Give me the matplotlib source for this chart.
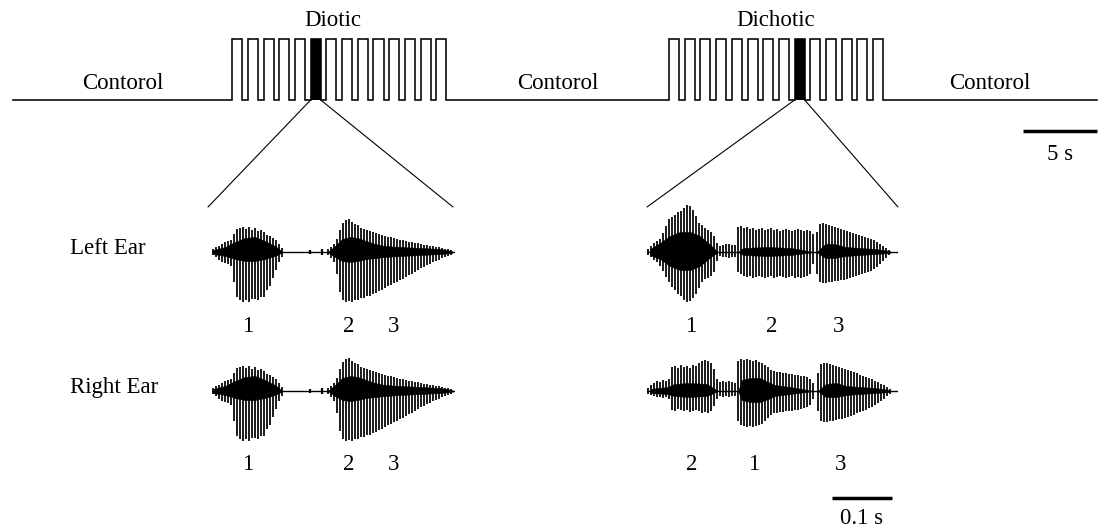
import numpy as np
import matplotlib
matplotlib.use("Agg")
import matplotlib.pyplot as plt
from matplotlib.patches import ConnectionPatch

# ---------------- data ----------------
# top timeline (seconds)
CONDITION_LABELS = ["Contorol", "Diotic", "Contorol", "Dichotic", "Contorol"]
BLOCK_ONSET_S = [14.8, 44.3]          # diotic block, dichotic block
N_TRIALS = 14
TRIAL_PERIOD_S = 1.06
STIM_ON_S = 0.68
HIGHLIGHT_TRIAL = [5, 8]              # filled (zoomed) trial in each block
TOTAL_S = 73.2
TIME_BAR_S = 5

# waveforms: stroke amplitudes (up / down), pitch period 5 ms
PITCH_MS = 5.0
DIOTIC_DUR_MS = 405
DICHOTIC_DUR_MS = 418

# diotic (identical in both ears)
DIO_S1_ONSET = 2
DIO_S1_TOP = [3, 5, 6, 8, 10, 11, 12, 18, 23, 24, 25, 23, 25, 22, 24, 21, 22, 20, 17, 16, 14, 12, 8, 4]
DIO_S1_BOT = [3, 5, 8, 10, 11, 12, 14, 30, 45, 48, 50, 48, 50, 47, 47, 48, 45, 45, 38, 34, 26, 18, 10, 5]
DIO_BLIP_MS = [163, 183]
DIO_BLIP_AMP = [2, 3]
DIO_S2_ONSET = 193
DIO_S2_TOP = [3, 5, 8, 13, 22, 29, 32, 33, 30, 28, 27, 24, 23, 22, 21, 20, 19, 18, 17, 16, 15, 15, 14, 13, 12,
              12, 11, 10, 10, 9, 9, 8, 7, 7, 6, 6, 5, 5, 4, 3, 3, 2]
DIO_S2_BOT = [3, 6, 10, 22, 40, 48, 50, 49, 50, 48, 48, 46, 46, 44, 44, 42, 41, 39, 38, 36, 34, 33, 31, 30, 28,
              27, 25, 23, 22, 20, 18, 16, 15, 13, 12, 10, 9, 8, 6, 5, 4, 3]
DIO_CORE_MS = [2, 22, 38, 55, 72, 88, 105, 118, 193, 205, 217, 230, 243, 257, 272, 288, 313, 347, 380, 400]
DIO_CORE_UP = [2, 5, 10, 14, 15, 11, 6, 0, 0, 6, 13, 15, 14, 11, 8, 6, 5, 4, 3, 1]
DIO_CORE_DN = [2, 4, 7, 9, 9, 7, 4, 0, 0, 5, 9, 10, 9, 7, 6, 5, 4, 3, 2, 1]

# dichotic, left ear (syllables 1, 2, 3)
DL_S1_ONSET = 2
DL_S1_TOP = [3, 6, 9, 11, 13, 19, 26, 33, 35, 37, 40, 41, 44, 47, 46, 42, 36, 29, 27, 24, 22, 20, 16, 9]
DL_S1_BOT = [3, 5, 8, 10, 14, 19, 25, 30, 35, 38, 42, 44, 48, 50, 49, 46, 42, 36, 30, 27, 26, 24, 20, 9]
DL_GAP_ONSET = 122
DL_GAP_TOP = [6, 7, 8, 8, 7, 7]
DL_GAP_BOT = [4, 5, 5, 6, 5, 5]
DL_S2_ONSET = 152
DL_S2_TOP = [25, 26, 24, 25, 23, 24, 22, 23, 24, 22, 23, 24, 22, 23, 21, 22, 23, 22, 21, 22, 23, 22, 21, 22, 21, 18]
DL_S2_BOT = [20, 22, 24, 25, 24, 26, 25, 24, 25, 26, 25, 24, 26, 25, 24, 25, 26, 25, 24, 26, 25, 26, 25, 24, 22, 12]
DL_S3_ONSET = 283
DL_S3_TOP = [20, 28, 29, 28, 27, 26, 25, 24, 23, 22, 21, 20, 19, 18, 17, 16, 15, 14, 13, 12, 10, 8, 6, 4, 2]
DL_S3_BOT = [22, 30, 31, 31, 30, 30, 29, 29, 28, 28, 27, 26, 25, 24, 23, 22, 21, 20, 19, 17, 15, 12, 9, 6, 3]
DL_CORE_MS = [5, 22, 38, 55, 72, 88, 102, 118, 152, 160, 200, 240, 278, 283, 297, 313, 330, 355, 380, 405]
DL_CORE_UP = [3, 9, 16, 20, 20, 16, 9, 0, 0, 4, 5, 4, 0, 0, 8, 8, 5, 4, 3, 1]
DL_CORE_DN = [3, 7, 14, 18, 18, 14, 7, 0, 0, 3, 4, 3, 0, 0, 6, 6, 4, 3, 2, 1]

# dichotic, right ear (syllables 2, 1, 3)
DR_S1_ONSET = 2
DR_S1_TOP = [3, 6, 8, 10, 9, 11, 10, 12, 24, 25, 23, 26, 24, 25, 23, 26, 25, 28, 30, 31, 30, 28, 22, 12]
DR_S1_BOT = [3, 4, 5, 6, 6, 7, 6, 8, 19, 20, 18, 19, 20, 19, 21, 20, 19, 20, 22, 21, 22, 20, 15, 8]
DR_GAP_ONSET = 122
DR_GAP_TOP = [9, 10, 9, 10, 9, 8]
DR_GAP_BOT = [5, 6, 5, 6, 5, 5]
DR_S2_ONSET = 152
DR_S2_TOP = [30, 32, 31, 32, 31, 30, 31, 29, 28, 26, 24, 21, 20, 19, 19, 18, 18, 17, 17, 16, 16, 15, 15, 14, 12, 8]
DR_S2_BOT = [30, 34, 35, 36, 35, 36, 35, 34, 33, 30, 27, 24, 22, 22, 21, 21, 20, 20, 20, 19, 19, 18, 17, 16, 14, 8]
DR_S3_ONSET = 285
DR_S3_TOP = [18, 27, 28, 28, 27, 26, 25, 24, 23, 22, 21, 20, 19, 18, 16, 15, 14, 13, 12, 10, 9, 7, 6, 4, 2]
DR_S3_BOT = [20, 30, 31, 31, 30, 30, 29, 28, 28, 27, 26, 25, 24, 22, 21, 20, 19, 17, 16, 14, 12, 10, 8, 5, 3]
DR_CORE_MS = [5, 35, 45, 70, 100, 118, 152, 158, 172, 188, 202, 213, 238, 278, 285, 298, 315, 332, 355, 380, 405]
DR_CORE_UP = [2, 4, 7, 8, 7, 0, 0, 11, 13, 13, 9, 6, 4, 0, 0, 7, 8, 5, 4, 3, 1]
DR_CORE_DN = [2, 3, 5, 6, 5, 0, 0, 9, 11, 11, 8, 5, 3, 0, 0, 6, 6, 4, 3, 2, 1]

# syllable number labels (ms position, text)
DIO_LABEL_MS = [60, 228, 303]
DIO_LABEL_TXT = ["1", "2", "3"]
DL_LABEL_MS = [72, 207, 320]
DL_LABEL_TXT = ["1", "2", "3"]
DR_LABEL_MS = [75, 177, 322]
DR_LABEL_TXT = ["2", "1", "3"]
WAVE_BAR_MS = 100
EAR_LABELS = ["Left Ear", "Right Ear"]

# ---------------- layout ----------------
W, H, DPI = 1104, 530, 100
plt.rcParams["font.family"] = ["Liberation Serif", "DejaVu Serif"]
FS = 16.5
fig = plt.figure(figsize=(W / DPI, H / DPI), dpi=DPI, facecolor="white")

def axes_px(x0, x1, y0, y1):
    ax = fig.add_axes([x0 / W, 1 - y1 / H, (x1 - x0) / W, (y1 - y0) / H])
    ax.set_axis_off()
    return ax

overlay = axes_px(0, W, 0, H)
overlay.set_xlim(0, W)
overlay.set_ylim(H, 0)

# ----- top timeline -----
TL_X0, TL_X1 = 13, 1097
BASE_PX, HIGH_PX = 100, 39
AX_T, AX_B = 5, 175
ax_top = axes_px(TL_X0, TL_X1, AX_T, AX_B)
ax_top.set_xlim(0, TOTAL_S)
unit = BASE_PX - HIGH_PX
ax_top.set_ylim((BASE_PX - AX_B) / unit, (BASE_PX - AX_T) / unit)

xs, ys = [0.0], [0.0]
for onset in BLOCK_ONSET_S:
    for k in range(N_TRIALS):
        t = onset + k * TRIAL_PERIOD_S
        xs += [t, t, t + STIM_ON_S, t + STIM_ON_S]
        ys += [0, 1, 1, 0]
xs.append(TOTAL_S)
ys.append(0)
ax_top.plot(xs, ys, color="black", lw=1.15, solid_joinstyle="miter", clip_on=False)

hl_starts = [on + h * TRIAL_PERIOD_S for on, h in zip(BLOCK_ONSET_S, HIGHLIGHT_TRIAL)]
ax_top.bar(hl_starts, [1, 1], width=STIM_ON_S, align="edge", color="black", lw=0)

# condition labels
block_len = (N_TRIALS - 1) * TRIAL_PERIOD_S + STIM_ON_S
seg_edges = [0, BLOCK_ONSET_S[0], BLOCK_ONSET_S[0] + block_len,
             BLOCK_ONSET_S[1], BLOCK_ONSET_S[1] + block_len, TOTAL_S]
for i, lab in enumerate(CONDITION_LABELS):
    mid = (seg_edges[i] + seg_edges[i + 1]) / 2
    if lab == "Contorol":
        y = (BASE_PX - 83) / unit
    else:
        y = (BASE_PX - 20) / unit
        if lab == "Diotic":
            mid -= 0.45
    ax_top.text(mid, y, lab, ha="center", va="center", fontsize=FS)

# 5 s bar
ax_top.plot([TOTAL_S - TIME_BAR_S, TOTAL_S], [(BASE_PX - 131) / unit] * 2,
            color="black", lw=2.5, solid_capstyle="butt", clip_on=False)
ax_top.text(TOTAL_S - TIME_BAR_S / 2, (BASE_PX - 154) / unit, f"{TIME_BAR_S} s",
            ha="center", va="center", fontsize=FS)

# ----- waveforms -----
PX_PER_MS = 0.6
ROW_BASE = [252, 391]
DIO_X0, DICH_X0 = 212, 647

def strokes(onset, top, bot):
    t = onset + PITCH_MS * np.arange(len(top))
    return t, np.asarray(top, float), np.asarray(bot, float)

def draw_wave(x0, base, dur, segs, core, labels, blips=None):
    ax = axes_px(x0, x0 + dur * PX_PER_MS, base - 60, base + 60)
    ax.set_xlim(0, dur)
    ax.set_ylim(-60, 60)
    ax.plot([0, dur], [0, 0], color="black", lw=1.0)
    ct, cu, cd = core
    ax.fill_between(ct, -np.asarray(cd), np.asarray(cu), color="black", lw=0.4)
    for onset, top, bot in segs:
        t, tp, bt = strokes(onset, top, bot)
        ax.vlines(t, -bt, tp, color="black", lw=1.25)
    if blips is not None:
        bt, ba = blips
        ax.vlines(bt, -np.asarray(ba), np.asarray(ba), color="black", lw=1.6)
    lm, lt = labels
    for m, s in zip(lm, lt):
        ax.text(m, -74, s, ha="center", va="center", fontsize=FS, clip_on=False)
    return ax

dio_segs = [(DIO_S1_ONSET, DIO_S1_TOP, DIO_S1_BOT), (DIO_S2_ONSET, DIO_S2_TOP, DIO_S2_BOT)]
dio_core = (DIO_CORE_MS, DIO_CORE_UP, DIO_CORE_DN)
for base in ROW_BASE:
    draw_wave(DIO_X0, base, DIOTIC_DUR_MS, dio_segs, dio_core,
              (DIO_LABEL_MS, DIO_LABEL_TXT), (DIO_BLIP_MS, DIO_BLIP_AMP))

draw_wave(DICH_X0, ROW_BASE[0], DICHOTIC_DUR_MS,
          [(DL_S1_ONSET, DL_S1_TOP, DL_S1_BOT), (DL_GAP_ONSET, DL_GAP_TOP, DL_GAP_BOT),
           (DL_S2_ONSET, DL_S2_TOP, DL_S2_BOT), (DL_S3_ONSET, DL_S3_TOP, DL_S3_BOT)],
          (DL_CORE_MS, DL_CORE_UP, DL_CORE_DN), (DL_LABEL_MS, DL_LABEL_TXT))
ax_dr = draw_wave(DICH_X0, ROW_BASE[1], DICHOTIC_DUR_MS,
                  [(DR_S1_ONSET, DR_S1_TOP, DR_S1_BOT), (DR_GAP_ONSET, DR_GAP_TOP, DR_GAP_BOT),
                   (DR_S2_ONSET, DR_S2_TOP, DR_S2_BOT), (DR_S3_ONSET, DR_S3_TOP, DR_S3_BOT)],
                  (DR_CORE_MS, DR_CORE_UP, DR_CORE_DN), (DR_LABEL_MS, DR_LABEL_TXT))

# 0.1 s bar
bar_x0 = DICHOTIC_DUR_MS - 10 - WAVE_BAR_MS
ax_dr.plot([bar_x0, bar_x0 + WAVE_BAR_MS], [-107, -107], color="black", lw=2.5,
           solid_capstyle="butt", clip_on=False)
ax_dr.text(bar_x0 + WAVE_BAR_MS / 2, -128, f"{WAVE_BAR_MS / 1000:g} s",
           ha="center", va="center", fontsize=FS, clip_on=False)

# ear labels
for base, lab in zip(ROW_BASE, EAR_LABELS):
    overlay.text(70, base - 3, lab, ha="left", va="center", fontsize=FS)

# zoom lines
ZOOM_ENDS = [((208, 207), (453, 207)), ((647, 207), (898, 207))]
for start, (left_end, right_end) in zip(hl_starts, ZOOM_ENDS):
    for tx, end in ((start, left_end), (start + STIM_ON_S, right_end)):
        cp = ConnectionPatch(xyA=(tx, 0), coordsA=ax_top.transData,
                             xyB=end, coordsB=overlay.transData,
                             color="black", lw=0.8)
        fig.add_artist(cp)

fig.savefig("out.png", dpi=DPI, facecolor="white")
